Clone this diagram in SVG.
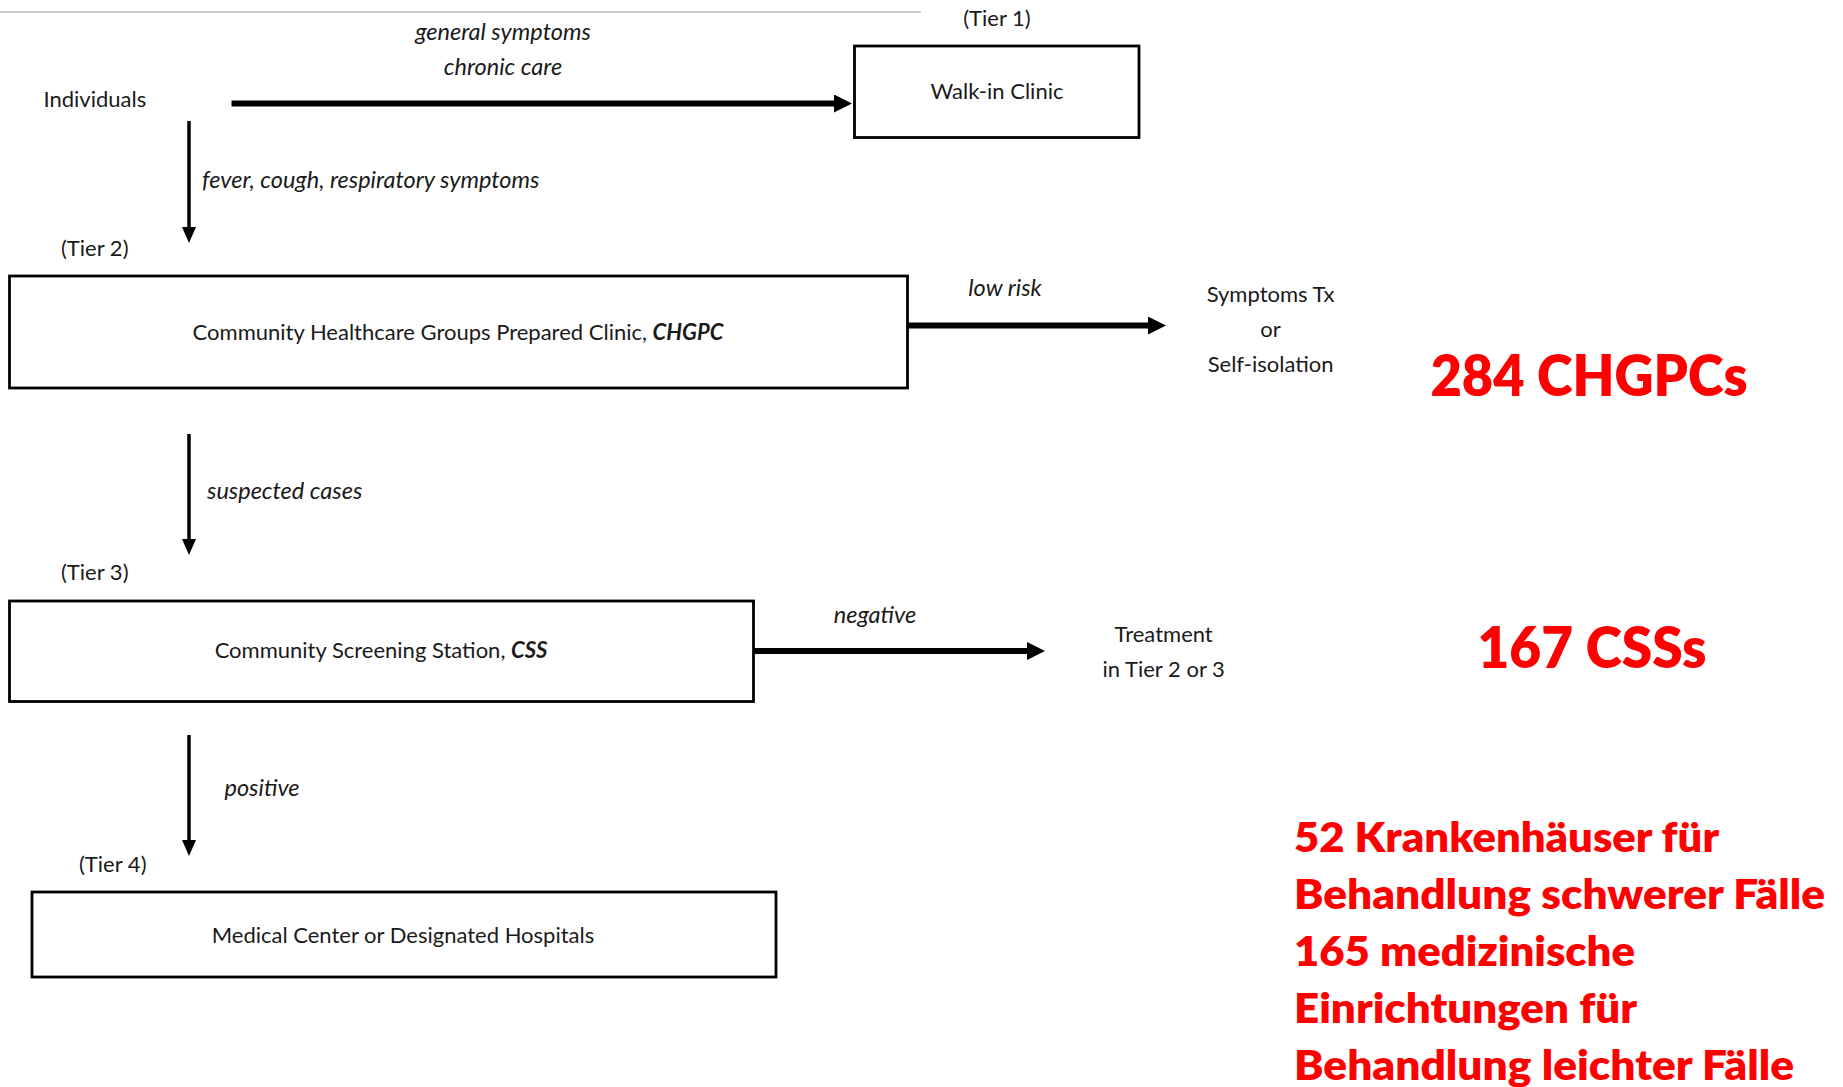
<svg xmlns="http://www.w3.org/2000/svg" width="1843" height="1087" viewBox="0 0 1843 1087">
<style>
  .box { fill: #ffffff; stroke: #000000; stroke-width: 2.8; }
  .t { font-family: Lato, "Open Sans", "Liberation Sans", sans-serif; font-size: 22px; fill: #1a1a1a; }
  .c { text-anchor: middle; }
  .i { font-style: italic; font-size: 23.5px; }
  .bi { font-weight: 700; font-style: italic; }
  .red { font-family: Lato, "Open Sans", "Liberation Sans", sans-serif; font-weight: 800; fill: #ff0000; }
  .thick { stroke: #000; stroke-width: 6; fill: none; marker-end: url(#headBig); }
  .thin { stroke: #000; stroke-width: 3.5; fill: none; marker-end: url(#headSmall); }
</style>
<defs>
  <marker id="headBig" markerUnits="userSpaceOnUse" markerWidth="18" markerHeight="18" viewBox="0 0 18 18" refX="0" refY="9" orient="auto">
    <path d="M0,0 L18,9 L0,18 z" fill="#000"/>
  </marker>
  <marker id="headSmall" markerUnits="userSpaceOnUse" markerWidth="16" markerHeight="14" viewBox="0 0 16 14" refX="0" refY="7" orient="auto">
    <path d="M0,0 L16,7 L0,14 z" fill="#000"/>
  </marker>
</defs>
<rect x="0" y="0" width="1843" height="1087" fill="#ffffff"/>
<line x1="0" y1="12" x2="921" y2="12" stroke="#bdbdbd" stroke-width="1.5"/>

<g id="connectors">
  <line class="thick" x1="231.5" y1="103.5" x2="834" y2="103.5"/>
  <line class="thin" x1="189" y1="121" x2="189" y2="227"/>
  <line class="thick" x1="908" y1="325.6" x2="1148" y2="325.6"/>
  <line class="thin" x1="189" y1="434" x2="189" y2="539"/>
  <line class="thick" x1="754" y1="651" x2="1027" y2="651"/>
  <line class="thin" x1="189" y1="735" x2="189" y2="840"/>
  <text class="t i c" x="503" y="40">general symptoms</text>
  <text class="t i c" x="503" y="75">chronic care</text>
  <text class="t i" x="202" y="188">fever, cough, respiratory symptoms</text>
  <text class="t i c" x="1005" y="296">low risk</text>
  <text class="t i" x="207" y="499">suspected cases</text>
  <text class="t i c" x="875" y="623">negative</text>
  <text class="t i" x="224.5" y="796">positive</text>
</g>

<g id="individuals">
  <text class="t" x="43.5" y="107">Individuals</text>
</g>

<g id="walkin">
  <text class="t c" x="997" y="26">(Tier 1)</text>
  <rect class="box" x="854.5" y="46" width="284.5" height="91.5"/>
  <text class="t c" x="997" y="99">Walk-in Clinic</text>
</g>

<g id="chgpc">
  <text class="t" x="61" y="256">(Tier 2)</text>
  <rect class="box" x="9.5" y="276" width="898" height="112"/>
  <text class="t c" x="458" y="340">Community Healthcare Groups Prepared Clinic, <tspan class="bi">CHGPC</tspan></text>
</g>

<g id="symptoms">
  <text class="t c" x="1270.6" y="302">Symptoms Tx</text>
  <text class="t c" x="1270.6" y="337">or</text>
  <text class="t c" x="1270.6" y="372">Self-isolation</text>
</g>

<g id="css">
  <text class="t" x="61" y="580">(Tier 3)</text>
  <rect class="box" x="9.5" y="601" width="744" height="100.5"/>
  <text class="t c" x="381" y="658">Community Screening Station, <tspan class="bi">CSS</tspan></text>
</g>

<g id="treatment">
  <text class="t c" x="1163.7" y="642">Treatment</text>
  <text class="t c" x="1163.7" y="677">in Tier 2 or 3</text>
</g>

<g id="hospitals">
  <text class="t" x="79" y="872">(Tier 4)</text>
  <rect class="box" x="32" y="892" width="744" height="85"/>
  <text class="t c" x="403" y="943">Medical Center or Designated Hospitals</text>
</g>

<g id="annotations">
  <text class="red" x="1430.5" y="396" font-size="56" textLength="317" lengthAdjust="spacingAndGlyphs">284 CHGPCs</text>
  <text class="red" x="1477.5" y="668" font-size="56" textLength="229" lengthAdjust="spacingAndGlyphs">167 CSSs</text>
  <text class="red" x="1294" y="852" font-size="42" textLength="425" lengthAdjust="spacingAndGlyphs">52 Krankenhäuser für</text>
  <text class="red" x="1294" y="909" font-size="42" textLength="531" lengthAdjust="spacingAndGlyphs">Behandlung schwerer Fälle</text>
  <text class="red" x="1294" y="966" font-size="42" textLength="341" lengthAdjust="spacingAndGlyphs">165 medizinische</text>
  <text class="red" x="1294" y="1023" font-size="42" textLength="343" lengthAdjust="spacingAndGlyphs">Einrichtungen für</text>
  <text class="red" x="1294" y="1080" font-size="42" textLength="500" lengthAdjust="spacingAndGlyphs">Behandlung leichter Fälle</text>
</g>
</svg>
